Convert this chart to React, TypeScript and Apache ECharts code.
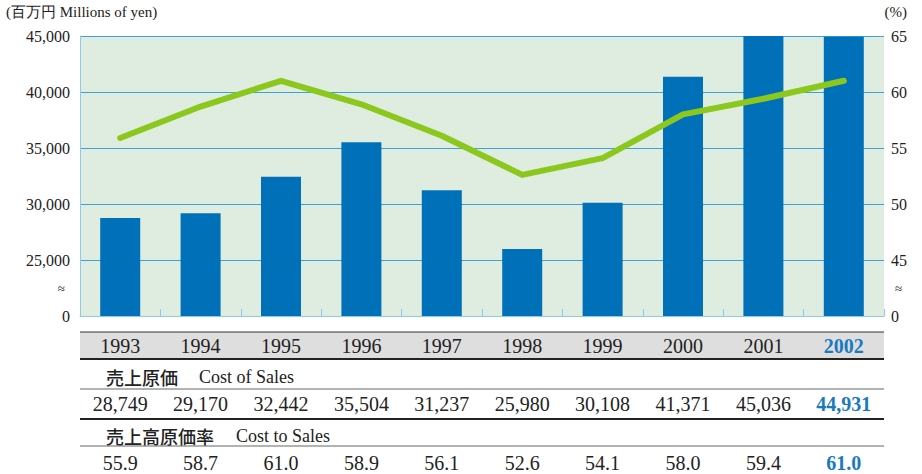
import React, { useEffect, useRef } from 'react';
import * as echarts from 'echarts';

const years = ['1993', '1994', '1995', '1996', '1997', '1998', '1999', '2000', '2001', '2002'];
const costOfSales = [28749, 29170, 32442, 35504, 31237, 25980, 30108, 41371, 45036, 44931];
const costToSales = [55.9, 58.7, 61.0, 58.9, 56.1, 52.6, 54.1, 58.0, 59.4, 61.0];
const leftBreak = 20000; // axis is broken below 25,000
const rightBreak = 40; // axis is broken below 45
const leftUnit = '(百万円 Millions of yen)';
const rightUnit = '(%)';
const row1Title = ['売上原価', 'Cost of Sales'];
const row2Title = ['売上高原価率', 'Cost to Sales'];

const SERIF = '"Liberation Serif", "Times New Roman", serif';
const CJK = '"Noto Sans CJK JP", "Noto Sans", sans-serif';
const BLUE = '#0071b8';
const HI = '#1a7abf';
const GRIDLINE = '#3aa3db';

export default function App() {
  const ref = useRef<HTMLDivElement>(null);
  useEffect(() => {
    document.body.style.margin = '0';
    const chart = echarts.init(ref.current!, undefined, { renderer: 'svg' });
    const option: any = {
      animation: false,
      grid: {
        left: 80, right: 38, top: 36, height: 280,
        show: true, backgroundColor: '#deede0', borderWidth: 0,
      },
      xAxis: {
        type: 'category',
        data: years,
        axisLine: { show: true, lineStyle: { color: '#8ccbea', width: 1 } },
        axisTick: { show: true, inside: true, length: 7, lineStyle: { color: '#8ccbea' } },
        axisLabel: { show: false },
      },
      yAxis: [
        {
          type: 'value', min: 0, max: 25000, interval: 2500,
          axisLine: { show: true, lineStyle: { color: '#8ccbea' } },
          axisTick: { show: false },
          splitLine: { show: true, lineStyle: { color: [GRIDLINE, 'transparent'], width: 1 } },
          axisLabel: {
            margin: 10, color: '#222', fontFamily: SERIF, fontSize: 16,
            formatter: (v: number) => {
              if (v === 0) return '0';
              if (v === 2500) return '{s|≈}';
              if (v % 5000 === 0) return (v + leftBreak).toLocaleString('en-US');
              return '';
            },
            rich: { s: { fontSize: 13, fontFamily: SERIF, color: '#222', padding: [0, 5, 0, 0] } },
          },
        },
        {
          type: 'value', min: 0, max: 25, interval: 2.5, position: 'right',
          axisLine: { show: false }, axisTick: { show: false }, splitLine: { show: false },
          axisLabel: {
            margin: 7, color: '#222', fontFamily: SERIF, fontSize: 16,
            formatter: (v: number) => {
              if (v === 0) return '0';
              if (Math.abs(v - 2.5) < 1e-6) return '{s|≈}';
              if (Math.abs(v % 5) < 1e-6) return String(Math.round(v + rightBreak));
              return '';
            },
            rich: { s: { fontSize: 13, fontFamily: SERIF, color: '#222', padding: [0, 0, 0, 4] } },
          },
        },
      ],
      series: [
        {
          type: 'bar', data: costOfSales.map((v) => v - leftBreak), barWidth: 40,
          itemStyle: { color: BLUE }, clip: true,
        },
        {
          type: 'line', yAxisIndex: 1, data: costToSales.map((v) => v - rightBreak),
          symbol: 'none', lineStyle: { color: '#8cc71e', width: 6, cap: 'round', join: 'round' },
          itemStyle: { color: '#8cc71e' },
        },
      ],
    };
    chart.setOption(option);

    const xs = years.map((_, i) => chart.convertToPixel({ xAxisIndex: 0 }, i) as number);
    const L = 80, R = 884;
    const txt = (x: number, y: number, text: string, o: any = {}) => ({
      type: 'text', x, y, silent: true,
      style: {
        text, fill: o.fill || '#222', fontSize: o.fontSize || 20, fontFamily: o.fontFamily || SERIF,
        fontWeight: o.fontWeight || 'normal', textAlign: o.align || 'center', textVerticalAlign: 'middle',
      },
    });
    const hline = (y: number, w: number, c: string) => ({
      type: 'line', silent: true, shape: { x1: L, y1: y, x2: R, y2: y }, style: { stroke: c, lineWidth: w },
    });
    const last = years.length - 1;
    const graphic: any[] = [
      txt(6, 12, leftUnit, { fontSize: 15, align: 'left' }),
      txt(907, 12, rightUnit, { fontSize: 15, align: 'right' }),
      { type: 'rect', silent: true, shape: { x: L, y: 332, width: R - L, height: 27 }, style: { fill: '#dedede' } },
      hline(332, 1.2, '#333'),
      hline(359, 2, '#222'),
      ...years.map((y, i) => txt(xs[i], 345.5, y, i === last ? { fill: HI, fontWeight: 'bold' } : {})),
      txt(106, 377, row1Title[0], { fontFamily: CJK, fontSize: 18, align: 'left', fontWeight: 500 }),
      txt(199, 377, row1Title[1], { fontSize: 18, align: 'left' }),
      hline(389, 1.2, '#666'),
      ...costOfSales.map((v, i) =>
        txt(xs[i], 404, v.toLocaleString('en-US'), i === last ? { fill: HI, fontWeight: 'bold' } : {})),
      hline(419, 2, '#222'),
      txt(106, 436, row2Title[0], { fontFamily: CJK, fontSize: 18, align: 'left', fontWeight: 500 }),
      txt(236, 436, row2Title[1], { fontSize: 18, align: 'left' }),
      hline(446, 1.2, '#666'),
      ...costToSales.map((v, i) =>
        txt(xs[i], 463, v.toFixed(1), i === last ? { fill: HI, fontWeight: 'bold' } : {})),
    ];
    chart.setOption({ graphic });
    return () => chart.dispose();
  }, []);
  return <div ref={ref} style={{ width: 922, height: 474 }} />;
}
